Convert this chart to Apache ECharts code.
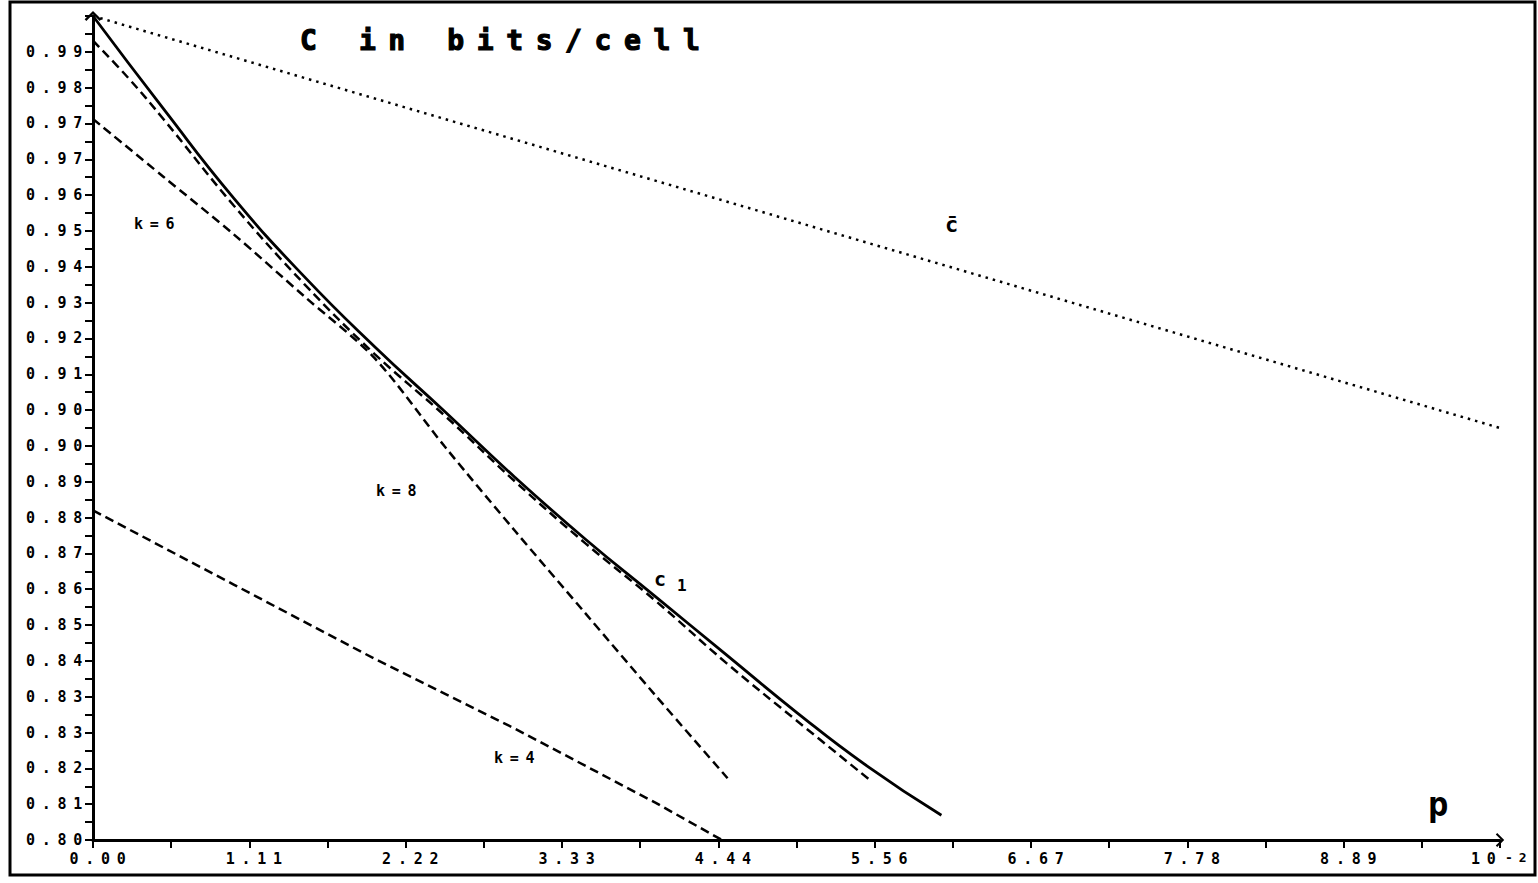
<!DOCTYPE html>
<html><head><meta charset="utf-8">
<script src="https://cdn.jsdelivr.net/npm/echarts@6/dist/echarts.min.js"></script>
<style>
html,body{margin:0;padding:0;background:#fff;}
#c{width:1538px;height:883px;}
#c svg text{letter-spacing:0.45em;}
</style></head><body><div id="c"></div>
<script>
// ---- data (p in units of 10^-2, C in bits/cell) ----
const cbarP = [0, 2.5, 5, 7.5, 10];
const cbarV = [1.000, 0.975, 0.950, 0.925, 0.900];

const c1P = [0, 0.5, 1, 1.5, 2, 2.5, 3, 3.5, 4, 4.5, 5, 5.5, 6.03];
const c1V = [1.000, 0.9775, 0.9558, 0.9368, 0.9198, 0.904, 0.888, 0.873, 0.859, 0.845, 0.831, 0.818, 0.806];

const k8P = [0, 0.25, 0.5, 1, 1.5, 2, 2.5, 3, 3.5, 4, 4.5, 5, 5.52];
const k8V = [0.994, 0.985, 0.975, 0.954, 0.935, 0.918, 0.903, 0.887, 0.872, 0.858, 0.843, 0.829, 0.8146];

const k6P = [0, 0.5, 1, 1.5, 2, 2.5, 3, 3.5, 4, 4.51];
const k6V = [0.975, 0.961, 0.947, 0.932, 0.917, 0.8955, 0.875, 0.855, 0.835, 0.815];

const k4P = [0, 1, 2, 3, 4, 4.47];
const k4V = [0.880, 0.862, 0.844, 0.827, 0.809, 0.800];

const xTickLabels = ['0.00','1.11','2.22','3.33','4.44','5.56','6.67','7.78','8.89',''];
const yTickLabels = ['0.80','0.81','0.82','0.83','0.83','0.84','0.85','0.86','0.87','0.88','0.89','0.90',
                     '0.90','0.91','0.92','0.93','0.94','0.95','0.96','0.97','0.97','0.98','0.99',''];

const titleText = 'C in bits/cell';
const xUnitMain = '10';
const xUnitExp = '-2';
const xName = 'p';

// ---- chart ----
const pairs = (xs, ys) => xs.map((x, i) => [x, ys[i]]);
const FONT = 'DejaVu Sans Mono';
const chart = echarts.init(document.getElementById('c'), null, {renderer: 'svg'});

const dashed = {color: '#000', width: 2.5, type: [9, 5]};
const arrow = 'path://M0,10 L10,0 L20,10 L18,12 L10,4 L2,12 Z';

chart.setOption({
  animation: false,
  backgroundColor: '#fff',
  grid: {left: 93, top: 16, width: 1407, height: 824, containLabel: false},
  xAxis: {
    type: 'value', min: 0, max: 10, interval: 10 / 9,
    axisLine: {show: true, symbol: ['none', arrow], symbolSize: [14, 11], lineStyle: {color: '#000', width: 3}},
    axisTick: {show: true, length: 8, lineStyle: {color: '#000', width: 2}},
    minorTick: {show: true, splitNumber: 2, length: 8, lineStyle: {color: '#000', width: 2}},
    splitLine: {show: false}, minorSplitLine: {show: false},
    axisLabel: {margin: 11, color: '#000', fontFamily: FONT, fontWeight: 'bold', fontSize: 15,
      padding: [0, 0, 0, 16],
      formatter: (v, i) => xTickLabels[i] !== undefined ? xTickLabels[i] : ''}
  },
  yAxis: {
    type: 'value', min: 0.8, max: 1.0, interval: 0.2 / 23,
    axisLine: {show: true, symbol: ['none', arrow], symbolSize: [18, 10], lineStyle: {color: '#000', width: 3}},
    axisTick: {show: true, length: 8, lineStyle: {color: '#000', width: 2}},
    minorTick: {show: true, splitNumber: 2, length: 8, lineStyle: {color: '#000', width: 2}},
    splitLine: {show: false}, minorSplitLine: {show: false},
    axisLabel: {margin: 4, color: '#000', fontFamily: FONT, fontWeight: 'bold', fontSize: 15,
      padding: [0, 0, 8, 0],
      formatter: (v, i) => yTickLabels[i] !== undefined ? yTickLabels[i] : ''}
  },
  series: [
    {name: 'c̄', type: 'line', data: pairs(cbarP, cbarV), showSymbol: false,
      lineStyle: {color: '#000', width: 2.5, type: [2.5, 5]}},
    {name: 'C1', type: 'line', data: pairs(c1P, c1V), showSymbol: false, smooth: 0.5,
      lineStyle: {color: '#000', width: 2.8}},
    {name: 'k=8', type: 'line', data: pairs(k8P, k8V), showSymbol: false, smooth: 0.4, lineStyle: dashed},
    {name: 'k=6', type: 'line', data: pairs(k6P, k6V), showSymbol: false, smooth: 0.3, lineStyle: dashed},
    {name: 'k=4', type: 'line', data: pairs(k4P, k4V), showSymbol: false, lineStyle: dashed}
  ],
  graphic: [
    {type: 'rect', shape: {x: 10, y: 2, width: 1525, height: 873}, z: 100,
      style: {fill: 'none', stroke: '#000', lineWidth: 3}},
    {type: 'text', x: 300, y: 40, z: 100,
      style: {text: titleText, font: 'bold 28px ' + FONT, fill: '#000', stroke: '#000', lineWidth: 1.2,
        textAlign: 'left', textVerticalAlign: 'middle'}},
    {type: 'text', x: 134, y: 224, style: {text: 'k=6', font: 'bold 15px ' + FONT, fill: '#000', textVerticalAlign: 'middle'}},
    {type: 'text', x: 376, y: 491, style: {text: 'k=8', font: 'bold 15px ' + FONT, fill: '#000', textVerticalAlign: 'middle'}},
    {type: 'text', x: 494, y: 758, style: {text: 'k=4', font: 'bold 15px ' + FONT, fill: '#000', textVerticalAlign: 'middle'}},
    {type: 'text', x: 945, y: 224, style: {text: 'c\u0304', font: 'bold 22px ' + FONT, fill: '#000', textVerticalAlign: 'middle'}},
    {type: 'text', x: 654, y: 569, style: {text: '{a|c}{b|1}', textVerticalAlign: 'top', fill: '#000',
      rich: {a: {fontFamily: FONT, fontWeight: 'bold', fontSize: 20, lineHeight: 20, verticalAlign: 'top'},
             b: {fontFamily: FONT, fontWeight: 'bold', fontSize: 16, lineHeight: 16, padding: [12, 0, 0, 11]}}}},
    {type: 'text', x: 1428, y: 804, style: {text: xName, font: 'bold 34px ' + FONT, fill: '#000', textVerticalAlign: 'middle'}},
    {type: 'text', x: 1471, y: 851, style: {text: '{a|' + xUnitMain + '}{b|' + xUnitExp + '}', textVerticalAlign: 'top', fill: '#000',
      rich: {a: {fontFamily: FONT, fontWeight: 'bold', fontSize: 15, lineHeight: 15, verticalAlign: 'bottom', padding: [0, 16, 0, 0]},
             b: {fontFamily: FONT, fontWeight: 'bold', fontSize: 13, lineHeight: 3, verticalAlign: 'top'}}}}
  ]
});
</script></body></html>
